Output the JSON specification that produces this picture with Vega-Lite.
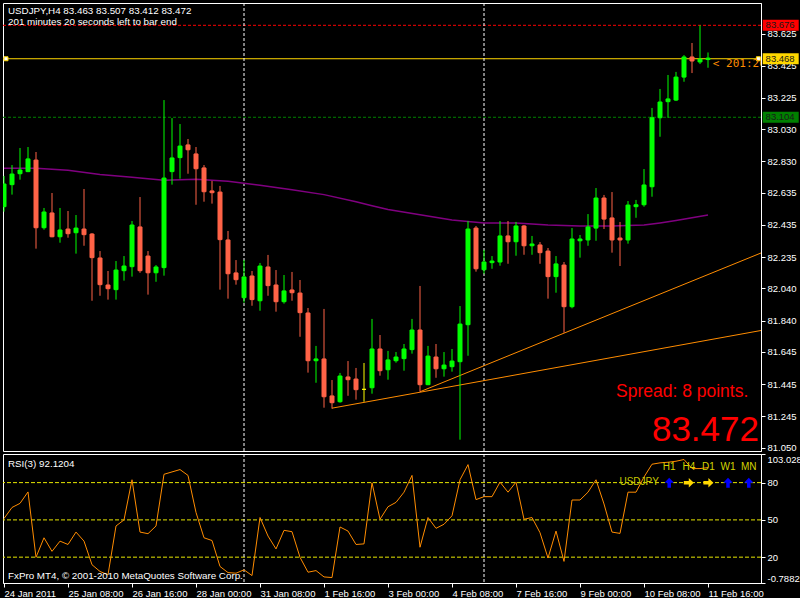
{
  "$schema": "https://vega.github.io/schema/vega-lite/v6.json",
  "background": "black",
  "padding": {"left": 2, "top": 2, "right": 0, "bottom": 0},
  "spacing": 3,
  "bounds": "flush",
  "config": {
    "view": {"stroke": "white", "strokeWidth": 1},
    "font": "Liberation Sans",
    "axis": {"grid": false, "domainColor": "white", "tickColor": "white", "labelColor": "white", "labelFont": "Liberation Sans", "labelFontSize": 9.5, "tickSize": 4, "labelPadding": 2, "title": null, "labelOverlap": false, "tickCount": 50}
  },
  "datasets": {
    "candles": [
      {"i":0,"o":82.548,"h":82.739,"l":82.517,"c":82.689},
      {"i":1,"o":82.685,"h":82.807,"l":82.623,"c":82.751},
      {"i":2,"o":82.753,"h":82.913,"l":82.716,"c":82.776},
      {"i":3,"o":82.766,"h":82.919,"l":82.763,"c":82.845},
      {"i":4,"o":82.838,"h":82.888,"l":82.287,"c":82.417},
      {"i":5,"o":82.417,"h":82.540,"l":82.405,"c":82.515},
      {"i":6,"o":82.509,"h":82.633,"l":82.358,"c":82.361},
      {"i":7,"o":82.361,"h":82.540,"l":82.324,"c":82.403},
      {"i":8,"o":82.409,"h":82.521,"l":82.355,"c":82.380},
      {"i":9,"o":82.386,"h":82.496,"l":82.256,"c":82.415},
      {"i":10,"o":82.409,"h":82.658,"l":82.305,"c":82.374},
      {"i":11,"o":82.378,"h":82.384,"l":81.963,"c":82.231},
      {"i":12,"o":82.229,"h":82.272,"l":81.994,"c":82.063},
      {"i":13,"o":82.061,"h":82.148,"l":81.970,"c":82.038},
      {"i":14,"o":82.032,"h":82.210,"l":81.970,"c":82.154},
      {"i":15,"o":82.150,"h":82.241,"l":82.088,"c":82.179},
      {"i":16,"o":82.175,"h":82.459,"l":82.113,"c":82.434},
      {"i":17,"o":82.422,"h":82.608,"l":82.137,"c":82.150},
      {"i":18,"o":82.241,"h":82.272,"l":82.001,"c":82.137},
      {"i":19,"o":82.137,"h":82.185,"l":82.081,"c":82.173},
      {"i":20,"o":82.169,"h":83.211,"l":82.119,"c":82.726},
      {"i":21,"o":82.766,"h":83.099,"l":82.685,"c":82.851},
      {"i":22,"o":82.853,"h":83.062,"l":82.722,"c":82.925},
      {"i":23,"o":82.932,"h":82.969,"l":82.753,"c":82.902},
      {"i":24,"o":82.876,"h":82.919,"l":82.560,"c":82.784},
      {"i":25,"o":82.789,"h":82.807,"l":82.579,"c":82.641},
      {"i":26,"o":82.646,"h":82.708,"l":82.567,"c":82.635},
      {"i":27,"o":82.639,"h":82.677,"l":82.032,"c":82.343},
      {"i":28,"o":82.341,"h":82.397,"l":81.976,"c":82.131},
      {"i":29,"o":82.136,"h":82.216,"l":82.063,"c":82.094},
      {"i":30,"o":81.982,"h":82.216,"l":81.951,"c":82.111},
      {"i":31,"o":82.117,"h":82.148,"l":81.932,"c":81.970},
      {"i":32,"o":81.963,"h":82.198,"l":81.901,"c":82.179},
      {"i":33,"o":82.173,"h":82.248,"l":81.994,"c":82.057},
      {"i":34,"o":82.061,"h":82.154,"l":81.895,"c":81.957},
      {"i":35,"o":81.957,"h":82.123,"l":81.945,"c":82.024},
      {"i":36,"o":82.030,"h":82.142,"l":81.963,"c":82.013},
      {"i":37,"o":82.011,"h":82.092,"l":81.739,"c":81.889},
      {"i":38,"o":81.887,"h":81.918,"l":81.516,"c":81.590},
      {"i":39,"o":81.590,"h":81.682,"l":81.453,"c":81.601},
      {"i":40,"o":81.601,"h":81.912,"l":81.298,"c":81.366},
      {"i":41,"o":81.371,"h":81.470,"l":81.292,"c":81.329},
      {"i":42,"o":81.335,"h":81.514,"l":81.329,"c":81.495},
      {"i":43,"o":81.489,"h":81.588,"l":81.372,"c":81.472},
      {"i":44,"o":81.476,"h":81.545,"l":81.348,"c":81.410},
      {"i":45,"o":81.412,"h":81.576,"l":81.335,"c":81.412},
      {"i":46,"o":81.422,"h":81.850,"l":81.385,"c":81.663},
      {"i":47,"o":81.663,"h":81.750,"l":81.497,"c":81.528},
      {"i":48,"o":81.534,"h":81.651,"l":81.472,"c":81.595},
      {"i":49,"o":81.590,"h":81.644,"l":81.578,"c":81.613},
      {"i":50,"o":81.603,"h":81.694,"l":81.528,"c":81.663},
      {"i":51,"o":81.659,"h":81.850,"l":81.634,"c":81.781},
      {"i":52,"o":81.781,"h":82.055,"l":81.397,"c":81.441},
      {"i":53,"o":81.441,"h":81.682,"l":81.438,"c":81.619},
      {"i":54,"o":81.613,"h":81.694,"l":81.484,"c":81.540},
      {"i":55,"o":81.540,"h":81.644,"l":81.491,"c":81.563},
      {"i":56,"o":81.553,"h":81.663,"l":81.522,"c":81.588},
      {"i":57,"o":81.584,"h":81.930,"l":81.099,"c":81.818},
      {"i":58,"o":81.814,"h":82.459,"l":81.621,"c":82.409},
      {"i":59,"o":82.415,"h":82.428,"l":82.144,"c":82.162},
      {"i":60,"o":82.156,"h":82.279,"l":82.131,"c":82.204},
      {"i":61,"o":82.200,"h":82.241,"l":82.162,"c":82.210},
      {"i":62,"o":82.204,"h":82.459,"l":82.181,"c":82.366},
      {"i":63,"o":82.366,"h":82.459,"l":82.193,"c":82.330},
      {"i":64,"o":82.330,"h":82.453,"l":82.243,"c":82.428},
      {"i":65,"o":82.428,"h":82.434,"l":82.249,"c":82.305},
      {"i":66,"o":82.305,"h":82.366,"l":82.249,"c":82.316},
      {"i":67,"o":82.310,"h":82.328,"l":82.193,"c":82.262},
      {"i":68,"o":82.272,"h":82.291,"l":81.976,"c":82.113},
      {"i":69,"o":82.113,"h":82.241,"l":82.013,"c":82.192},
      {"i":70,"o":82.185,"h":82.204,"l":81.764,"c":81.926},
      {"i":71,"o":81.926,"h":82.415,"l":81.916,"c":82.347},
      {"i":72,"o":82.336,"h":82.372,"l":82.231,"c":82.347},
      {"i":73,"o":82.341,"h":82.502,"l":82.305,"c":82.422},
      {"i":74,"o":82.415,"h":82.664,"l":82.336,"c":82.602},
      {"i":75,"o":82.602,"h":82.621,"l":82.409,"c":82.471},
      {"i":76,"o":82.478,"h":82.639,"l":82.262,"c":82.341},
      {"i":77,"o":82.353,"h":82.453,"l":82.179,"c":82.341},
      {"i":78,"o":82.341,"h":82.583,"l":82.318,"c":82.558},
      {"i":79,"o":82.548,"h":82.590,"l":82.479,"c":82.560},
      {"i":80,"o":82.560,"h":82.782,"l":82.548,"c":82.683},
      {"i":81,"o":82.672,"h":83.162,"l":82.610,"c":83.101},
      {"i":82,"o":83.101,"h":83.280,"l":82.983,"c":83.199},
      {"i":83,"o":83.201,"h":83.367,"l":83.101,"c":83.218},
      {"i":84,"o":83.211,"h":83.386,"l":83.205,"c":83.354},
      {"i":85,"o":83.354,"h":83.491,"l":83.325,"c":83.479},
      {"i":86,"o":83.479,"h":83.566,"l":83.379,"c":83.454},
      {"i":87,"o":83.448,"h":83.676,"l":83.435,"c":83.466},
      {"i":88,"o":83.463,"h":83.507,"l":83.412,"c":83.472}
    ],
    "ma": [
      {"i":0,"v":82.787},{"i":4,"v":82.787},{"i":8,"v":82.774},{"i":12,"v":82.748},{"i":16,"v":82.731},
      {"i":20,"v":82.712},{"i":24,"v":82.718},{"i":28,"v":82.706},{"i":32,"v":82.681},{"i":36,"v":82.654},
      {"i":40,"v":82.623},{"i":44,"v":82.579},{"i":46,"v":82.554},{"i":48,"v":82.530},{"i":52,"v":82.498},
      {"i":56,"v":82.465},{"i":60,"v":82.447},{"i":64,"v":82.447},{"i":68,"v":82.434},{"i":72,"v":82.428},
      {"i":76,"v":82.428},{"i":80,"v":82.434},{"i":82,"v":82.447},{"i":84,"v":82.462},{"i":86,"v":82.479},{"i":88,"v":82.496}
    ],
    "trend": [
      {"line":"A","i":41,"p":81.295},{"line":"A","i":94.625,"p":81.778},
      {"line":"B","i":52,"p":81.397},{"line":"B","i":94.625,"p":82.260}
    ],
    "rsi": [
      {"i":0,"v":51.1},{"i":1,"v":60.0},{"i":2,"v":63.3},{"i":3,"v":72.5},{"i":4,"v":19.9},{"i":5,"v":35.6},
      {"i":6,"v":24.7},{"i":7,"v":32.9},{"i":8,"v":30.2},{"i":9,"v":40.2},{"i":10,"v":32.9},{"i":11,"v":13.9},
      {"i":12,"v":8.5},{"i":13,"v":5.8},{"i":14,"v":45.1},{"i":15,"v":50.0},{"i":16,"v":82.3},{"i":17,"v":40.2},
      {"i":18,"v":38.9},{"i":19,"v":45.1},{"i":20,"v":86.7},{"i":21,"v":88.6},{"i":22,"v":90.5},{"i":23,"v":85.8},
      {"i":24,"v":56.0},{"i":25,"v":35.6},{"i":26,"v":33.4},{"i":27,"v":12.5},{"i":28,"v":7.6},{"i":29,"v":7.1},
      {"i":30,"v":9.8},{"i":31,"v":5.2},{"i":32,"v":51.9},{"i":33,"v":37.0},{"i":34,"v":26.6},{"i":35,"v":41.6},
      {"i":36,"v":40.5},{"i":37,"v":19.9},{"i":38,"v":7.9},{"i":39,"v":9.2},{"i":40,"v":4.1},{"i":41,"v":3.6},
      {"i":42,"v":44.3},{"i":43,"v":41.0},{"i":44,"v":30.2},{"i":45,"v":30.7},{"i":46,"v":79.9},{"i":47,"v":50.5},
      {"i":48,"v":60.6},{"i":49,"v":64.1},{"i":50,"v":72.3},{"i":51,"v":85.8},{"i":52,"v":28.0},{"i":53,"v":51.9},
      {"i":54,"v":43.2},{"i":55,"v":46.5},{"i":56,"v":53.3},{"i":57,"v":82.3},{"i":58,"v":94.5},{"i":59,"v":66.3},
      {"i":60,"v":68.7},{"i":61,"v":68.7},{"i":62,"v":80.4},{"i":63,"v":72.3},{"i":64,"v":80.4},{"i":65,"v":50.5},
      {"i":66,"v":51.9},{"i":67,"v":39.7},{"i":68,"v":19.3},{"i":69,"v":41.0},{"i":70,"v":16.6},{"i":71,"v":66.0},
      {"i":72,"v":66.0},{"i":73,"v":72.3},{"i":74,"v":82.3},{"i":75,"v":62.8},{"i":76,"v":40.2},{"i":77,"v":39.1},
      {"i":78,"v":72.3},{"i":79,"v":72.3},{"i":80,"v":84.5},{"i":81,"v":94.8},{"i":82,"v":95.9},{"i":83,"v":96.4},
      {"i":84,"v":97.2},{"i":85,"v":98.6},{"i":86,"v":91.3},{"i":87,"v":91.3},{"i":88,"v":92.1}
    ],
    "tf": [
      {"tf":"H1","i":83.15,"sig":"up"},
      {"tf":"H4","i":85.6,"sig":"right"},
      {"tf":"D1","i":88.05,"sig":"right"},
      {"tf":"W1","i":90.5,"sig":"up"},
      {"tf":"MN","i":93.1,"sig":"up"}
    ],
    "pricelabels": [
      {"p":83.676,"label":"83.676","kind":"high"},
      {"p":83.468,"label":"83.468","kind":"bid"},
      {"p":83.104,"label":"83.104","kind":"level"}
    ]
  },
  "vconcat": [
    {
      "width": 758,
      "height": 448,
      "layer": [
        {
          "data": {"values": [{}]},
          "mark": {"type": "rule", "color": "#ff0000", "strokeDash": [3, 2], "strokeWidth": 1},
          "encoding": {"y": {"datum": 83.676, "type": "quantitative", "scale": {"domain": [81.0286, 83.8147], "nice": false, "zero": false, "padding": 0}, "axis": {"orient": "right", "values": [83.625, 83.425, 83.225, 83.03, 82.83, 82.635, 82.435, 82.235, 82.04, 81.84, 81.645, 81.445, 81.245, 81.05], "format": ".3f", "labelOverlap": false, "tickCount": 50, "labelBound": false}}}
        },
        {
          "data": {"values": [{}]},
          "mark": {"type": "rule", "color": "#008000", "strokeDash": [3, 2], "strokeWidth": 1},
          "encoding": {"y": {"datum": 83.104, "type": "quantitative"}}
        },
        {
          "data": {"values": [{}]},
          "mark": {"type": "rule", "color": "#ffd700", "strokeWidth": 1},
          "encoding": {"y": {"datum": 83.468, "type": "quantitative"}}
        },
        {
          "data": {"values": [{"i": 30}, {"i": 60}]},
          "mark": {"type": "rule", "color": "white", "strokeDash": [3, 2], "strokeWidth": 1},
          "encoding": {"x": {"field": "i", "type": "quantitative", "scale": {"domain": [-0.125, 94.625], "nice": false, "zero": false, "padding": 0}, "axis": null}}
        },
        {
          "data": {"name": "ma"},
          "mark": {"type": "line", "color": "#800080", "strokeWidth": 1.5, "interpolate": "linear", "clip": true},
          "encoding": {"x": {"field": "i", "type": "quantitative"}, "y": {"field": "v", "type": "quantitative"}}
        },
        {
          "data": {"name": "trend"},
          "mark": {"type": "line", "color": "#ff8c00", "strokeWidth": 1, "clip": true},
          "encoding": {"x": {"field": "i", "type": "quantitative"}, "y": {"field": "p", "type": "quantitative"}, "detail": {"field": "line"}}
        },
        {
          "data": {"name": "candles"},
          "mark": {"type": "rule", "strokeWidth": 1, "clip": true},
          "encoding": {
            "x": {"field": "i", "type": "quantitative"},
            "y": {"field": "l", "type": "quantitative"},
            "y2": {"field": "h"},
            "color": {"condition": [{"test": "datum.c > datum.o", "value": "#00ff00"}, {"test": "datum.c < datum.o", "value": "#ff6347"}], "value": "#ffff00"}
          }
        },
        {
          "data": {"name": "candles"},
          "mark": {"type": "bar", "width": 4, "strokeWidth": 1, "clip": true},
          "encoding": {
            "x": {"field": "i", "type": "quantitative"},
            "y": {"field": "o", "type": "quantitative"},
            "y2": {"field": "c"},
            "color": {"condition": [{"test": "datum.c > datum.o", "value": "#00ff00"}, {"test": "datum.c < datum.o", "value": "#ff6347"}], "value": "#ffff00"},
            "stroke": {"condition": [{"test": "datum.c > datum.o", "value": "#00ff00"}, {"test": "datum.c < datum.o", "value": "#ff6347"}], "value": "#ffff00"}
          }
        },
        {
          "data": {"values": [{"i": 0.25}, {"i": 94.3}]},
          "mark": {"type": "point", "shape": "square", "filled": true, "fill": "white", "size": 16, "stroke": "#ffd700", "strokeWidth": 1, "opacity": 1, "clip": true},
          "encoding": {"x": {"field": "i", "type": "quantitative"}, "y": {"datum": 83.468, "type": "quantitative"}}
        },
        {
          "data": {"values": [{}]},
          "mark": {"type": "text", "text": "USDJPY,H4  83.463 83.507 83.412 83.472", "align": "left", "baseline": "middle", "color": "white", "font": "Liberation Sans", "fontSize": 9.8},
          "encoding": {"x": {"datum": 0.5}, "y": {"datum": 83.763}}
        },
        {
          "data": {"values": [{}]},
          "mark": {"type": "text", "text": "201 minutes 20 seconds left to bar end", "align": "left", "baseline": "middle", "color": "white", "font": "Liberation Sans", "fontSize": 9.8},
          "encoding": {"x": {"datum": 0.5}, "y": {"datum": 83.697}}
        },
        {
          "data": {"values": [{}]},
          "mark": {"type": "text", "text": "< 201:20", "align": "left", "baseline": "middle", "color": "#ff8c00", "font": "DejaVu Sans Mono", "fontSize": 11, "clip": true},
          "encoding": {"x": {"datum": 88.6}, "y": {"datum": 83.435}}
        },
        {
          "data": {"values": [{}]},
          "mark": {"type": "text", "text": "Spread: 8 points.", "align": "left", "baseline": "alphabetic", "color": "#ff0000", "font": "Liberation Sans", "fontSize": 17.5},
          "encoding": {"x": {"datum": 76.5}, "y": {"datum": 81.364}}
        },
        {
          "data": {"values": [{}]},
          "mark": {"type": "text", "text": "83.472", "align": "right", "baseline": "alphabetic", "color": "#ff0000", "font": "Liberation Sans", "fontSize": 35},
          "encoding": {"x": {"datum": 94.375}, "y": {"datum": 81.091}}
        },
        {
          "data": {"name": "pricelabels"},
          "mark": {"type": "rect", "clip": false, "yOffset": -5.5, "y2Offset": 5.5},
          "encoding": {
            "x": {"datum": 94.84},
            "x2": {"datum": 99.34},
            "y": {"field": "p", "type": "quantitative"},
            "y2": {"field": "p"},
            "color": {"condition": [{"test": "datum.kind == 'high'", "value": "#ff0000"}, {"test": "datum.kind == 'bid'", "value": "#ffd700"}], "value": "#008000"}
          }
        },
        {
          "data": {"name": "pricelabels"},
          "mark": {"type": "text", "clip": false, "align": "left", "baseline": "middle", "color": "#1a1a1a", "font": "Liberation Sans", "fontSize": 9.5},
          "encoding": {
            "x": {"datum": 95.2},
            "y": {"field": "p", "type": "quantitative"},
            "text": {"field": "label"}
          }
        }
      ]
    },
    {
      "width": 758,
      "height": 129,
      "layer": [
        {
          "data": {"values": [{"lvl": 80}, {"lvl": 50}, {"lvl": 20}]},
          "mark": {"type": "rule", "color": "#e6e600", "strokeDash": [4, 2], "strokeWidth": 1},
          "encoding": {"y": {"field": "lvl", "type": "quantitative", "scale": {"domain": [-0.7882, 103.0289], "nice": false, "zero": false, "padding": 0}, "axis": {"orient": "right", "values": [103.0289, 80, 50, 20, -0.7882], "labelOverlap": false, "tickCount": 50, "labelBound": false, "labelExpr": "datum.value > 100 ? '103.0289' : datum.value < 0 ? '-0.7882' : format(datum.value, 'd')", "labelBaseline": {"condition": [{"test": "datum.value > 100", "value": "top"}, {"test": "datum.value < 0", "value": "bottom"}], "value": "middle"}}}}
        },
        {
          "data": {"values": [{"i": 30}, {"i": 60}]},
          "mark": {"type": "rule", "color": "white", "strokeDash": [3, 2], "strokeWidth": 1},
          "encoding": {"x": {"field": "i", "type": "quantitative", "scale": {"domain": [-0.125, 94.625], "nice": false, "zero": false, "padding": 0}, "axis": {"orient": "bottom", "values": [0, 8, 16, 24, 32, 40, 48, 56, 64, 72, 80, 88], "tickCount": 50, "labelAlign": "left", "labelBaseline": "top", "labelPadding": 1, "labelOverlap": false, "labelExpr": "['24 Jan 2011','25 Jan 08:00','26 Jan 16:00','28 Jan 00:00','31 Jan 08:00','1 Feb 16:00','3 Feb 00:00','4 Feb 08:00','7 Feb 16:00','9 Feb 00:00','10 Feb 08:00','11 Feb 16:00'][round(datum.value / 8)]", "labelFlush": false}}}
        },
        {
          "data": {"name": "rsi"},
          "mark": {"type": "line", "color": "#ff8c00", "strokeWidth": 1, "clip": true},
          "encoding": {"x": {"field": "i", "type": "quantitative"}, "y": {"field": "v", "type": "quantitative"}}
        },
        {
          "data": {"values": [{}]},
          "mark": {"type": "text", "text": "RSI(3) 92.1204", "align": "left", "baseline": "middle", "color": "white", "font": "Liberation Sans", "fontSize": 9.8},
          "encoding": {"x": {"datum": 0.5}, "y": {"datum": 94.98}}
        },
        {
          "data": {"values": [{}]},
          "mark": {"type": "text", "text": "FxPro MT4, © 2001-2010 MetaQuotes Software Corp.", "align": "left", "baseline": "middle", "color": "white", "font": "Liberation Sans", "fontSize": 9.8},
          "encoding": {"x": {"datum": 0.5}, "y": {"datum": 4.85}}
        },
        {
          "data": {"values": [{}]},
          "mark": {"type": "text", "text": "USDJPY", "align": "center", "baseline": "middle", "color": "#c8c800", "font": "Liberation Sans", "fontSize": 10},
          "encoding": {"x": {"datum": 79.4}, "y": {"datum": 80.5}}
        },
        {
          "data": {"name": "tf"},
          "mark": {"type": "text", "align": "center", "baseline": "middle", "color": "#d4d400", "font": "Liberation Sans", "fontSize": 10},
          "encoding": {"x": {"field": "i", "type": "quantitative"}, "y": {"datum": 92.8}, "text": {"field": "tf"}}
        },
        {
          "data": {"name": "tf"},
          "mark": {"type": "point", "shape": "M0,-1L0.95,0L0.35,0L0.35,1L-0.35,1L-0.35,0L-0.95,0Z", "filled": true, "size": 100, "opacity": 1, "strokeWidth": 0},
          "encoding": {
            "x": {"field": "i", "type": "quantitative"},
            "y": {"datum": 79.9},
            "color": {"condition": {"test": "datum.sig == 'up'", "value": "#0000ff"}, "value": "#ffd700"},
            "angle": {"condition": {"test": "datum.sig == 'up'", "value": 0}, "value": 90}
          }
        }
      ]
    }
  ]
}
